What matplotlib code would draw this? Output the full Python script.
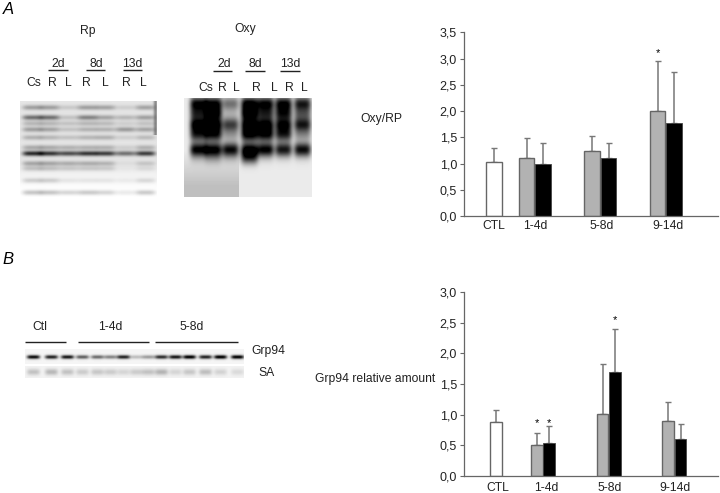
import matplotlib
matplotlib.use('Agg')
import matplotlib.pyplot as plt
import numpy as np

plt.rcParams['font.family'] = ['Liberation Sans', 'DejaVu Sans']

# chart values
groups = ['CTL', '1-4d', '5-8d', '9-14d']
a_ctl, a_ctl_top = 1.03, 1.29
a_grey = [1.10, 1.23, 2.00]
a_grey_top = [1.48, 1.53, 2.95]
a_black = [1.00, 1.10, 1.78]
a_black_top = [1.40, 1.40, 2.75]

b_ctl, b_ctl_top = 0.88, 1.07
b_grey = [0.51, 1.01, 0.89]
b_grey_top = [0.70, 1.82, 1.21]
b_black = [0.53, 1.69, 0.60]
b_black_top = [0.82, 2.39, 0.85]

a_ticks = [0, 0.5, 1, 1.5, 2, 2.5, 3, 3.5]
b_ticks = [0, 0.5, 1, 1.5, 2, 2.5, 3]

# blot band strengths, one row per band, one column per lane
rp_rows = [107, 117, 123, 129, 137, 147, 153, 163, 168, 180, 192]
rp_bands = [[.30, .30, .12, .30, .28, .10, .28],
            [.50, .50, .15, .42, .28, .20, .30],
            [.20, .20, .15, .20, .18, .10, .15],
            [.30, .28, .15, .22, .22, .32, .28],
            [.22, .20, .15, .20, .22, .10, .18],
            [.25, .25, .22, .22, .22, .10, .22],
            [.80, .75, .65, .75, .72, .50, .72],
            [.28, .28, .25, .25, .22, .05, .15],
            [.18, .18, .15, .15, .14, .03, .08],
            [.16, .16, .07, .07, .07, .05, .12],
            [.22, .22, .16, .20, .16, .08, .20]]
oxy_rows = [103, 113, 124, 134, 149, 157]
oxy_bands = [[.95, .95, .50, 1.0, .95, .95, .85],
             [.70, .95, .15, 1.0, .70, .80, .50],
             [1.0, 1.0, .70, 1.0, .95, .90, .85],
             [.80, .90, .30, 1.0, .95, .80, .35],
             [1.0, 1.0, .95, 1.0, 1.0, .90, .95],
             [.12, .25, .12, .70, .08, .05, .05]]
grp_bands = [.95, .85, .90, .60, .55, .45, .85, .22, .35, .80, .90, 1.0, .85, 1.0, 1.0]
sa_bands = [.20, .24, .20, .16, .18, .16, .12, .16, .20, .26, .12, .18, .22, .13, .10]


def blot(x0, x1, y0, y1, lanes, rows, bands, wx, wy, bg):
    xs = np.arange(x0, x1)
    ys = np.arange(y0, y1)
    X, Y = np.meshgrid(xs, ys)
    dark = np.zeros(X.shape)
    for r, row in zip(rows, bands):
        for l, v in zip(lanes, row):
            dark += v * np.exp(-((X - l) / wx) ** 4) * np.exp(-((Y - r) / wy) ** 2)
    return bg(X, Y) * (1 - np.clip(dark, 0, 1))


fig = plt.figure(figsize=(7.2, 4.93), dpi=100)

# whole page overlay in pixel units for blots and labels
page = fig.add_axes([0, 0, 1, 1])
page.set_xlim(0, 720)
page.set_ylim(493, 0)
page.axis('off')


def show(img, x0, x1, y0, y1):
    page.imshow(img, extent=[x0, x1, y1, y0], cmap='gray', vmin=0, vmax=1,
                aspect='auto', interpolation='bilinear')


rp_lanes = [32, 49, 68, 87, 105, 125, 145]
show(blot(20, 157, 101, 197, rp_lanes, rp_rows, rp_bands, 10, 2.6,
          lambda X, Y: 0.9 + 0.1 * np.clip((Y - 160) / 30, 0, 1)
          - 0.35 * np.exp(-((X - 155) / 2.0) ** 2) * (Y < 135)), 20, 157, 101, 197)

oxy_lanes = [198, 213, 230, 249, 265, 283, 302]
show(blot(184, 312, 98, 197, oxy_lanes, oxy_rows, oxy_bands, 8.5, 7,
          lambda X, Y: np.where(X < 239, 0.92 - 0.17 * np.clip((Y - 150) / 35, 0, 1), 0.92)),
     184, 312, 98, 197)

grp_lanes = [33, 51, 67, 82, 97, 110, 123, 136, 148, 161, 175, 189, 205, 220, 237]
show(blot(25, 244, 349, 364, grp_lanes, [356.5], [grp_bands], 6.5, 2.0,
          lambda X, Y: 0.96 + 0 * X), 25, 244, 349, 364)
show(blot(25, 244, 366, 378, grp_lanes, [371.5], [sa_bands], 6.5, 3.2,
          lambda X, Y: 0.95 + 0 * X), 25, 244, 366, 378)

# labels
page.text(8, 9, 'A', fontsize=12, style='italic', ha='center', va='center')
page.text(8, 260, 'B', fontsize=12, style='italic', ha='center', va='center')

labels = [('Rp', 88, 31), ('2d', 58, 64), ('8d', 96, 64), ('13d', 132, 64),
          ('Cs', 34, 83), ('R', 52, 83), ('L', 68, 83), ('R', 86, 83), ('L', 105, 83),
          ('R', 126, 83), ('L', 143, 83),
          ('Oxy', 245, 29), ('2d', 224, 64), ('8d', 255, 64), ('13d', 290, 64),
          ('Cs', 206, 88), ('R', 222, 88), ('L', 236, 88), ('R', 256, 88), ('L', 274, 88),
          ('R', 289, 88), ('L', 304, 88),
          ('Oxy/RP', 381, 119), ('Grp94 relative amount', 375, 379),
          ('Ctl', 40, 327), ('1-4d', 110, 327), ('5-8d', 192, 327),
          ('Grp94', 268, 351), ('SA', 267, 373)]
for t, x, y in labels:
    page.text(x, y, t, fontsize=8.7, ha='center', va='center', color='#222222')

rules = [(48, 68, 70), (86, 105, 70), (123, 142, 70),
         (213, 232, 71), (245, 265, 71), (280, 300, 71),
         (25, 66, 342), (78, 149, 342), (155, 238, 342)]
for x0, x1, y in rules:
    page.plot([x0, x1], [y, y], color='#222222', lw=1.0, solid_capstyle='butt')
page.set_xlim(0, 720)
page.set_ylim(493, 0)


def panel(bottom, top, ymax, ticks, ctl, ctl_top, grey, grey_top, black, black_top,
          ctl_x, grey_x, black_x, width, label_x, tick_pad):
    ax = fig.add_axes([464 / 720, 1 - bottom / 493, 254 / 720, (bottom - top) / 493])
    ax.patch.set_alpha(0)
    ax.set_xlim(464, 718)
    ax.set_ylim(0, ymax)
    xs = [ctl_x] + grey_x + black_x
    vals = [ctl] + grey + black
    tops = [ctl_top] + grey_top + black_top
    errs = [t - v for t, v in zip(tops, vals)]
    ax.errorbar(xs, vals, yerr=[[0] * len(errs), errs], fmt='none', ecolor='#777777',
                elinewidth=1.1, capsize=2, capthick=1.0, zorder=1)
    ax.bar(ctl_x, ctl, width, color='white', edgecolor='#666666', lw=1.0, zorder=2)
    ax.bar(grey_x, grey, width, color='#b2b2b2', edgecolor='#666666', lw=1.0, zorder=2)
    ax.bar(black_x, black, width, color='black', edgecolor='#444444', lw=0.6, zorder=2)
    for s in ['top', 'right']:
        ax.spines[s].set_visible(False)
    for s in ['left', 'bottom']:
        ax.spines[s].set_color('#666666')
        ax.spines[s].set_linewidth(0.9)
    ax.set_yticks(ticks)
    ax.yaxis.set_major_formatter(plt.FuncFormatter(lambda v, p: ('%.1f' % v).replace('.', ',')))
    ax.tick_params(axis='y', length=3, width=0.8, color='#666666', labelsize=9,
                   labelcolor='#222222', pad=2)
    ax.set_xticks(label_x)
    ax.set_xticklabels(groups)
    ax.tick_params(axis='x', length=0, labelsize=8.7, labelcolor='#222222', pad=tick_pad)
    return ax


ax_a = panel(216, 32.3, 3.5, a_ticks, a_ctl, a_ctl_top, a_grey, a_grey_top, a_black, a_black_top,
             494, [526.5, 592, 657.5], [543, 608.5, 674], 15.5, [494, 535, 602, 668], 3)
ax_a.text(657.5, 3.0, '*', fontsize=8, ha='center', va='bottom')

ax_b = panel(476, 292, 3.0, b_ticks, b_ctl, b_ctl_top, b_grey, b_grey_top, b_black, b_black_top,
             496, [537, 602.5, 668], [549, 615, 680.5], 11.7, [498, 546, 610, 675], 4)
ax_b.text(537, 0.86, '*', fontsize=8, ha='center', va='center')
ax_b.text(549, 0.86, '*', fontsize=8, ha='center', va='center')
ax_b.text(615, 2.54, '*', fontsize=8, ha='center', va='center')

fig.savefig('out.png', dpi=100)
